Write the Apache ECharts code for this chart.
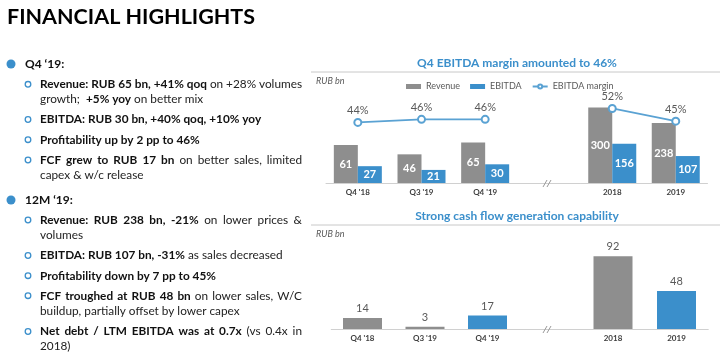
<!DOCTYPE html>
<html><head><meta charset="utf-8">
<script src="https://cdn.jsdelivr.net/npm/echarts@6/dist/echarts.min.js"></script>
<style>html,body{margin:0;padding:0;background:#fff}#c{width:720px;height:361px}</style>
</head><body><div id="c"></div>
<script>
// ---------- data ----------
const quarters = ["Q4 '18", "Q3 '19", "Q4 '19"];
const years = ["2018", "2019"];
const revenueQ = [61, 46, 65];
const ebitdaQ = [27, 21, 30];
const marginQ = [44, 46, 46];
const revenueY = [300, 238];
const ebitdaY = [156, 107];
const marginY = [52, 45];
const fcfQ = [14, 3, 17];
const fcfY = [92, 48];

const pageTitle = 'FINANCIAL HIGHLIGHTS';
const chartTitle1 = 'Q4 EBITDA margin amounted to 46%';
const chartTitle2 = 'Strong cash flow generation capability';
const unitLabel = 'RUB bn';

// left text: [style, text] segments ('b' bold, 'n' normal)
const heads = ["Q4 \u201819:", "12M \u201819:"];
const textLines = [
  {head: 0},
  {bullet: true, justify: true, segs: [['b', 'Revenue: RUB 65 bn, +41% qoq'], ['n', ' on +28% volumes']]},
  {segs: [['n', 'growth;  '], ['b', '+5% yoy'], ['n', ' on better mix']]},
  {bullet: true, segs: [['b', 'EBITDA: RUB 30 bn, +40% qoq, +10% yoy']]},
  {bullet: true, segs: [['b', 'Profitability up by 2 pp to 46%']]},
  {bullet: true, justify: true, segs: [['b', 'FCF grew to RUB 17 bn'], ['n', ' on better sales, limited']]},
  {segs: [['n', 'capex & w/c release']]},
  {head: 1},
  {bullet: true, justify: true, segs: [['b', 'Revenue: RUB 238 bn, -21%'], ['n', ' on lower prices &']]},
  {segs: [['n', 'volumes']]},
  {bullet: true, segs: [['b', 'EBITDA: RUB 107 bn, -31%'], ['n', ' as sales decreased']]},
  {bullet: true, segs: [['b', 'Profitability down by 7 pp to 45%']]},
  {bullet: true, justify: true, segs: [['b', 'FCF troughed at RUB 48 bn'], ['n', ' on lower sales, W/C']]},
  {segs: [['n', 'buildup, partially offset by lower capex']]},
  {bullet: true, justify: true, segs: [['b', 'Net debt / LTM EBITDA was at 0.7x'], ['n', ' (vs 0.4x in']]},
  {segs: [['n', '2018)']]}
];
const lineY = [64, 84.3, 99.3, 119.5, 139.7, 160, 175, 200, 220, 235, 255.5, 275.7, 295.7, 311.5, 331.5, 345.7];

// ---------- styles ----------
const FF = 'Lato, "Open Sans", sans-serif';
const GRAY = '#8e8e8e', BLUE = '#3b8fcb', LINEBLUE = '#5aa2d3', AXIS = '#d0d0d0', TXT = '#595959';
const BODY = 11.8;

const L = {
  c1q: {left: 326, width: 191, top: 83, height: 100},
  c1y: {left: 580.5, width: 127, top: 83, height: 100},
  c2q: {left: 331.25, width: 187.5, top: 234, height: 95},
  c2y: {left: 581.25, width: 127, top: 234, height: 95}
};

const chart = echarts.init(document.getElementById('c'), null, {renderer: 'canvas'});

const xAx = (g, data) => ({
  type: 'category', gridIndex: g, data: data,
  axisLine: {lineStyle: {color: AXIS, width: 1}}, axisTick: {show: false},
  axisLabel: {fontSize: 8, fontWeight: 'bold', color: '#404040', margin: 5, fontFamily: FF}
});
const yAx = (g, min, max) => ({type: 'value', gridIndex: g, min: min, max: max, show: false, splitLine: {show: false}});

const inLabel = {show: true, position: 'inside', color: '#fff', fontSize: 11, fontWeight: 'bold', fontFamily: FF};
const topLabel = {show: true, position: 'top', color: TXT, fontSize: 11, fontFamily: FF, distance: 4};
const pctLabel = {show: true, position: 'top', color: TXT, fontSize: 11, fontFamily: FF, distance: 2, formatter: '{c}%'};
const lastBlue = arr => p => (p.dataIndex === arr.length - 1 ? BLUE : GRAY);

// ---------- left text graphics ----------
const ctx = document.createElement('canvas').getContext('2d');
const fontOf = (st, size) => (st === 'b' ? 'bold ' : '') + size + 'px ' + FF;
const colOf = st => (st === 'b' ? '#111' : '#222');
const TEXT_X = 40, TEXT_R = 302;
const gfx = [];

gfx.push({type: 'text', x: 7, y: 17, style: {text: pageTitle, font: 'bold 21.5px ' + FF, fill: '#000', verticalAlign: 'middle'}});

textLines.forEach((ln, i) => {
  const y = lineY[i];
  if (ln.head !== undefined) {
    gfx.push({type: 'circle', shape: {cx: 11, cy: y, r: 4.5}, style: {fill: BLUE}});
    gfx.push({type: 'text', x: 25, y: y, style: {text: heads[ln.head], font: 'bold 12px ' + FF, fill: '#111', verticalAlign: 'middle'}});
    return;
  }
  if (ln.bullet) gfx.push({type: 'circle', shape: {cx: 28, cy: y, r: 2.8}, style: {fill: '#fff', stroke: BLUE, lineWidth: 1.3}});
  if (ln.justify) {
    const words = [];
    ln.segs.forEach(s => s[1].split(' ').forEach(w => { if (w) words.push([s[0], w]); }));
    let total = 0;
    words.forEach(w => { ctx.font = fontOf(w[0], BODY); w.push(ctx.measureText(w[1]).width); total += w[2]; });
    const gap = Math.max(2.5, (TEXT_R - TEXT_X - total) / (words.length - 1));
    let x = TEXT_X;
    words.forEach(w => {
      gfx.push({type: 'text', x: x, y: y, style: {text: w[1], font: fontOf(w[0], BODY), fill: colOf(w[0]), verticalAlign: 'middle'}});
      x += w[2] + gap;
    });
  } else {
    const rich = {
      b: {fontSize: BODY, fontWeight: 'bold', fontFamily: FF, fill: colOf('b')},
      n: {fontSize: BODY, fontFamily: FF, fill: colOf('n')}
    };
    gfx.push({type: 'text', x: TEXT_X, y: y, style: {
      text: ln.segs.map(s => '{' + s[0] + '|' + s[1] + '}').join(''), rich: rich,
      font: fontOf('n', BODY), verticalAlign: 'middle'}});
  }
});

// chart titles, separators, units
[[chartTitle1, 63, 72, 81.5], [chartTitle2, 216, 225, 234]].forEach(t => {
  gfx.push({type: 'text', x: 517, y: t[1], style: {text: t[0], font: 'bold 12px ' + FF, fill: BLUE, align: 'center', verticalAlign: 'middle'}});
  gfx.push({type: 'line', shape: {x1: 311, y1: t[2], x2: 720, y2: t[2]}, style: {stroke: '#c8c8c8', lineWidth: 1}});
  gfx.push({type: 'text', x: 316, y: t[3], style: {text: unitLabel, font: 'italic 9px ' + FF, fill: TXT, verticalAlign: 'middle'}});
});
// axis bridge + break marks
[[L.c1q, L.c1y], [L.c2q, L.c2y]].forEach(p => {
  const yb = p[0].top + p[0].height + 0.5;
  gfx.push({type: 'line', shape: {x1: p[0].left + p[0].width, y1: yb, x2: p[1].left, y2: yb}, style: {stroke: AXIS, lineWidth: 1}});
  [543, 547].forEach(bx => gfx.push({type: 'line', shape: {x1: bx, y1: yb + 3.5, x2: bx + 4, y2: yb - 3.5}, style: {stroke: '#9a9a9a', lineWidth: 1}}));
});

chart.setOption({
  animation: false,
  backgroundColor: '#fff',
  textStyle: {fontFamily: FF},
  grid: [L.c1q, L.c1y, L.c2q, L.c2y].map(g => Object.assign({containLabel: false}, g)),
  legend: {
    left: 401, top: 77, itemWidth: 15, itemHeight: 5, itemGap: 10,
    textStyle: {fontSize: 9, color: TXT, fontFamily: FF},
    data: [{name: 'Revenue', icon: 'rect'}, {name: 'EBITDA', icon: 'rect'}, {name: 'EBITDA margin'}]
  },
  xAxis: [xAx(0, quarters), xAx(1, years), xAx(2, quarters), xAx(3, years)],
  yAxis: [yAx(0, 0, 160.5), yAx(0, 4, 70), yAx(1, 0, 397), yAx(1, 11, 66), yAx(2, 0, 120), yAx(3, 0, 120)],
  series: [
    {name: 'Revenue', type: 'bar', xAxisIndex: 0, yAxisIndex: 0, data: revenueQ, barWidth: 24, barGap: '0%', itemStyle: {color: GRAY}, label: inLabel},
    {name: 'EBITDA', type: 'bar', xAxisIndex: 0, yAxisIndex: 0, data: ebitdaQ, barWidth: 24, barGap: '0%', itemStyle: {color: BLUE}, label: inLabel},
    {name: 'EBITDA margin', type: 'line', xAxisIndex: 0, yAxisIndex: 1, data: marginQ, symbol: 'emptyCircle', symbolSize: 7,
      lineStyle: {color: LINEBLUE, width: 1.8}, itemStyle: {color: LINEBLUE, borderWidth: 1.8}, label: pctLabel},
    {name: 'Revenue', type: 'bar', xAxisIndex: 1, yAxisIndex: 2, data: revenueY, barWidth: 24, barGap: '0%', itemStyle: {color: GRAY}, label: inLabel},
    {name: 'EBITDA', type: 'bar', xAxisIndex: 1, yAxisIndex: 2, data: ebitdaY, barWidth: 24, barGap: '0%', itemStyle: {color: BLUE}, label: inLabel},
    {name: 'EBITDA margin', type: 'line', xAxisIndex: 1, yAxisIndex: 3, data: marginY, symbol: 'emptyCircle', symbolSize: 7,
      lineStyle: {color: LINEBLUE, width: 1.8}, itemStyle: {color: LINEBLUE, borderWidth: 1.8}, label: pctLabel},
    {name: 'FCF', type: 'bar', xAxisIndex: 2, yAxisIndex: 4, data: fcfQ, barWidth: 39, itemStyle: {color: lastBlue(fcfQ)}, label: topLabel},
    {name: 'FCF', type: 'bar', xAxisIndex: 3, yAxisIndex: 5, data: fcfY, barWidth: 39, itemStyle: {color: lastBlue(fcfY)}, label: topLabel}
  ],
  graphic: gfx
});
</script></body></html>
